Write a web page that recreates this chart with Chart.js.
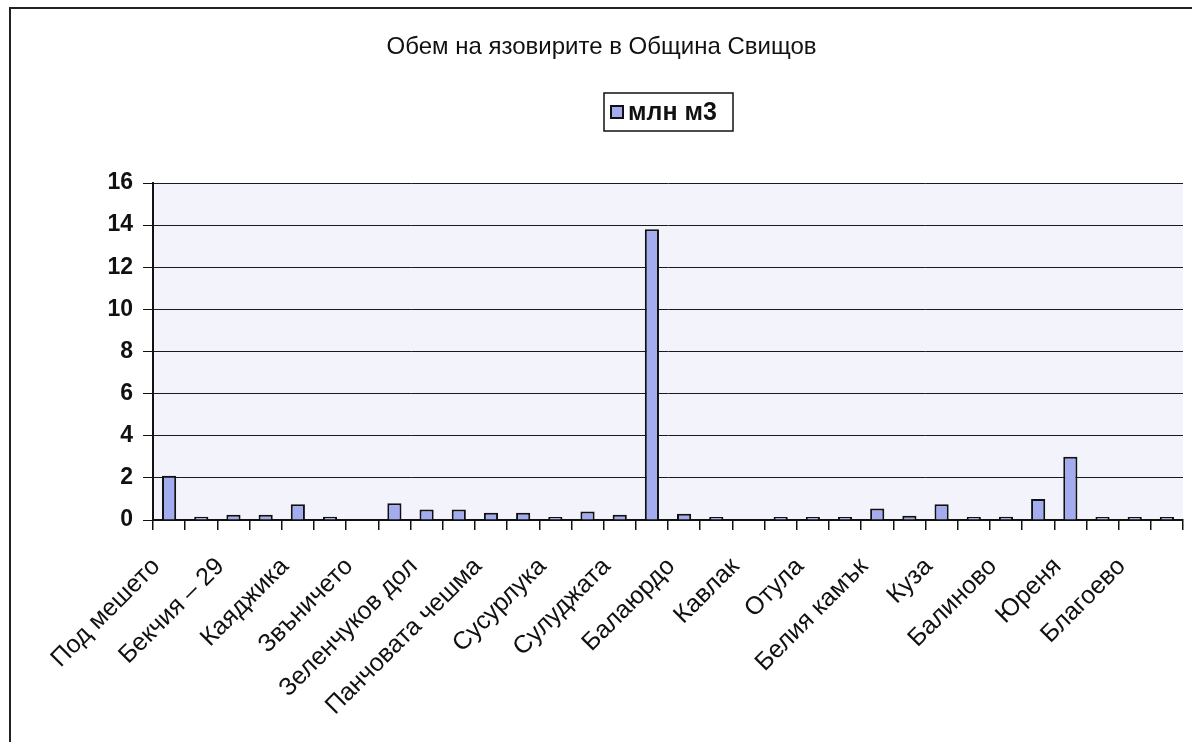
<!DOCTYPE html>
<html>
<head>
<meta charset="utf-8">
<script src="https://cdn.jsdelivr.net/npm/chart.js@4.4.1/dist/chart.umd.min.js"></script>
<style>
  html, body { margin: 0; padding: 0; background: #fff; }
  #wrap { width: 1192px; height: 742px; }
</style>
</head>
<body>
<div id="wrap"><canvas id="damChart" width="1192" height="742"></canvas></div>
<script>
// categories (only every other one is named on the axis in the original)
const categories = [
  "Под мешето", "", "Бекчия – 29", "", "Каяджика", "", "Звъничето", "",
  "Зеленчуков дол", "", "Панчовата чешма", "", "Сусурлука", "", "Сулуджата", "",
  "Балаюрдо", "", "Кавлак", "", "Отула", "", "Белия камък", "",
  "Куза", "", "Балиново", "", "Юреня", "", "Благоево", ""
];
// volume, million m3 (null = no bar shown)
const volumes = [
  2.1, 0.15, 0.25, 0.25, 0.75, 0.15, null, 0.8,
  0.5, 0.5, 0.35, 0.35, 0.05, 0.4, 0.25, 13.8,
  0.3, 0.05, null, 0.05, 0.12, 0.12, 0.55, 0.2,
  0.75, 0.1, 0.15, 1.0, 3.0, 0.06, 0.03, 0.02
];
const yTicks = [0, 2, 4, 6, 8, 10, 12, 14, 16];

const FONT = '"Liberation Sans", Arial, sans-serif';
const barFill = "#a3acee";
const ink = "#111";

// light plot background + outer frame of the scanned chart
const plotBg = {
  id: "plotBg",
  beforeDraw(chart) {
    const { ctx, chartArea: a } = chart;
    ctx.save();
    ctx.fillStyle = "#f3f3fb";
    ctx.fillRect(a.left, a.top, a.right - a.left, a.bottom - a.top);
    ctx.restore();
  },
  afterDraw(chart) {
    const ctx = chart.ctx;
    ctx.save();
    ctx.strokeStyle = "#222";
    ctx.lineWidth = 2;
    ctx.beginPath();
    ctx.moveTo(10, 742);
    ctx.lineTo(10, 8);
    ctx.lineTo(1192, 8);
    ctx.stroke();
    ctx.restore();
  }
};

// boxed legend like the Excel one
const boxLegend = {
  id: "boxLegend",
  afterDraw(chart) {
    const ctx = chart.ctx;
    const ds = chart.data.datasets[0];
    ctx.save();
    ctx.strokeStyle = ink;
    ctx.lineWidth = 1.5;
    ctx.strokeRect(604, 93, 129, 38);
    ctx.fillStyle = ds.backgroundColor;
    ctx.fillRect(611, 106, 12, 12);
    ctx.lineWidth = 2;
    ctx.strokeRect(611, 106, 12, 12);
    ctx.fillStyle = ink;
    ctx.font = "bold 25px " + FONT;
    ctx.textBaseline = "middle";
    ctx.fillText(ds.label, 628, 113);
    ctx.restore();
  }
};

new Chart(document.getElementById("damChart"), {
  type: "bar",
  data: {
    labels: categories,
    datasets: [{
      label: "млн м3",
      data: volumes,
      backgroundColor: barFill,
      borderColor: ink,
      borderWidth: 2,
      minBarLength: 3,
      barPercentage: 0.44,
      categoryPercentage: 1
    }]
  },
  options: {
    responsive: false,
    animation: false,
    layout: { padding: { left: 20, right: 9, top: 0, bottom: 0 } },
    plugins: {
      legend: { display: false },
      tooltip: { enabled: false },
      title: {
        display: true,
        text: "Обем на язовирите в Община Свищов",
        color: ink,
        font: { family: FONT, size: 24, weight: "normal" },
        padding: { top: 33, bottom: 121.2 }
      }
    },
    scales: {
      x: {
        offset: true,
        grid: {
          offset: true,
          drawOnChartArea: false,
          drawTicks: true,
          tickLength: 10,
          color: ink,
          lineWidth: 1.5
        },
        border: { display: true, color: ink, width: 2 },
        ticks: {
          autoSkip: false,
          maxRotation: 45,
          minRotation: 45,
          padding: 22,
          labelOffset: -13,
          color: ink,
          font: { family: FONT, size: 25 }
        },
        afterFit(scale) {
          scale.height = 222;
          scale.paddingLeft = 0;
          scale.paddingRight = 0;
        }
      },
      y: {
        min: yTicks[0],
        max: yTicks[yTicks.length - 1],
        grid: {
          color: "#1a1a1a",
          lineWidth: 1,
          tickLength: 10,
          tickColor: ink
        },
        border: { display: true, color: ink, width: 2 },
        ticks: {
          stepSize: yTicks[1] - yTicks[0],
          padding: 10,
          color: ink,
          font: { family: FONT, size: 23, weight: "bold" }
        },
        afterFit(scale) { scale.width = 133; }
      }
    }
  },
  plugins: [plotBg, boxLegend]
});
</script>
</body>
</html>
